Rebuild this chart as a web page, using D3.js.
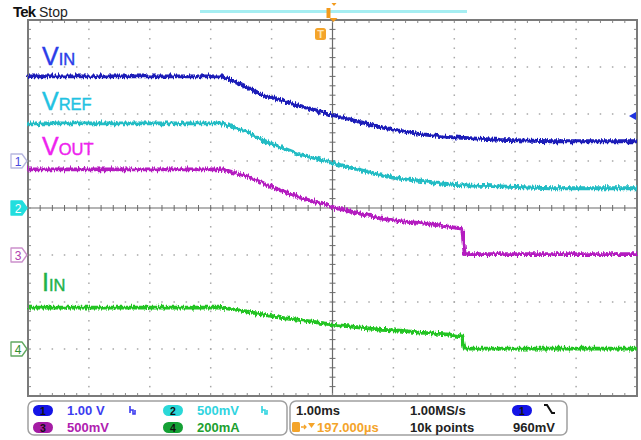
<!DOCTYPE html>
<html><head><meta charset="utf-8">
<script src="https://cdn.jsdelivr.net/npm/d3@7"></script>
<style>body{margin:0;background:#fff}svg{display:block}</style>
</head><body>
<svg id="scope" width="641" height="440"></svg>
<script>
// Acquisition samples: time in ms relative to screen centre (1.00 ms/div)
const timeMs = [-5, -1.81, -1.40, -1.14, -0.86, -0.58, 0, 0.78, 1.11, 1.44, 1.93, 2.13, 2.17, 2.75, 3.57, 5];
// Channel 1: input voltage (V)
const vinV  = [1.80, 1.80, 1.57, 1.40, 1.30, 1.19, 0.98, 0.72, 0.64, 0.57, 0.51, 0.49, 0.49, 0.45, 0.42, 0.42];
// Channel 2: reference voltage (V)
const vrefV = [0.90, 0.90, 0.81, 0.72, 0.65, 0.58, 0.48, 0.35, 0.31, 0.29, 0.25, 0.24, 0.24, 0.23, 0.21, 0.21];
// Channel 3: output voltage (V)
const voutV = [0.91, 0.91, 0.84, 0.76, 0.69, 0.62, 0.51, 0.39, 0.36, 0.34, 0.30, 0.28, 0.01, 0.01, 0.01, 0.01];
// Channel 4: input current (mA)
const iinMA = [176, 176, 159, 146, 133, 125, 104, 82, 78, 70, 61, 53, 2, 2, 2, 2];

const channelIds    = ["1", "2", "3", "4"];
const unitsPerDiv   = [1, 0.5, 0.5, 200];
const offsetDivs    = [1, 0, -1, -3];
const scaleLabels   = ["1.00 V", "500mV", "500mV", "200mA"];
const traceColors   = ["#1a1cb8", "#24bcc4", "#b41cc0", "#22c422"];
const labelColors   = ["#2b3de8", "#22c2e2", "#ee22ee", "#22b24a"];
const pillColors    = ["#1414e6", "#2ad8d8", "#a41ca4", "#14a034"];
const traceLabels   = [["V", "IN"], ["V", "REF"], ["V", "OUT"], ["I", "IN"]];
const horizLabels   = ["1.00ms", "197.000µs"];
const acqLabels     = ["1.00MS/s", "10k points"];
const triggerLevelV = 0.96;
const triggerLabel  = "960mV";
const triggerDelayMs = -0.197;

const series = [vinV, vrefV, voutV, iinMA];

const svg = d3.select("#scope");
const L = 28, R = 637, T = 20, B = 396;
const nx = 10, ny = 8;
const dx = (R - L) / nx, dy = (B - T) / ny;

const x = d3.scaleLinear().domain([-5, 5]).range([L, R]);
const yScales = unitsPerDiv.map((u, i) =>
  d3.scaleLinear().domain([(-4 - offsetDivs[i]) * u, (4 - offsetDivs[i]) * u]).range([B, T]));

// noise texture for the acquired traces
const defs = svg.append("defs");
const f = defs.append("filter").attr("id", "acq").attr("filterUnits", "userSpaceOnUse")
  .attr("x", 0).attr("y", 0).attr("width", 641).attr("height", 440);
f.append("feTurbulence").attr("type", "fractalNoise").attr("baseFrequency", "0.7 0.1")
  .attr("numOctaves", 2).attr("seed", 7).attr("result", "n");
f.append("feDisplacementMap").attr("in", "SourceGraphic").attr("in2", "n")
  .attr("scale", 6).attr("xChannelSelector", "G").attr("yChannelSelector", "R").attr("result", "d");
f.append("feGaussianBlur").attr("in", "d").attr("stdDeviation", 0.35);

// graticule dots
const grid = svg.append("g");
for (let k = 1; k < nx; k++) {
  if (k === 5) continue;
  for (let j = 1; j < ny * 5; j++) {
    grid.append("rect").attr("x", L + k * dx - 0.75).attr("y", T + j * dy / 5 - 0.75)
      .attr("width", 1.5).attr("height", 1.5).attr("fill", "#a8a8a8");
  }
}
for (let k = 1; k < ny; k++) {
  if (k === 4) continue;
  for (let j = 1; j < nx * 5; j++) {
    grid.append("rect").attr("x", L + j * dx / 5 - 0.75).attr("y", T + k * dy - 0.75)
      .attr("width", 1.5).attr("height", 1.5).attr("fill", "#a8a8a8");
  }
}
// centre cross with minor ticks
const cx = L + 5 * dx, cy = T + 4 * dy;
grid.append("line").attr("x1", L).attr("x2", R).attr("y1", cy).attr("y2", cy).attr("stroke", "#6a6a6a").attr("stroke-width", 1.2);
grid.append("line").attr("x1", cx).attr("x2", cx).attr("y1", T).attr("y2", B).attr("stroke", "#6a6a6a").attr("stroke-width", 1.2);
for (let j = 1; j < nx * 5; j++) {
  const px = L + j * dx / 5;
  grid.append("line").attr("x1", px).attr("x2", px).attr("y1", cy - 3).attr("y2", cy + 3).attr("stroke", "#6a6a6a");
  grid.append("line").attr("x1", px).attr("x2", px).attr("y1", T).attr("y2", T + 3).attr("stroke", "#8a8a8a");
  grid.append("line").attr("x1", px).attr("x2", px).attr("y1", B - 3).attr("y2", B).attr("stroke", "#8a8a8a");
}
for (let j = 1; j < ny * 5; j++) {
  const py = T + j * dy / 5;
  grid.append("line").attr("x1", cx - 3).attr("x2", cx + 3).attr("y1", py).attr("y2", py).attr("stroke", "#6a6a6a");
  grid.append("line").attr("x1", L).attr("x2", L + 3).attr("y1", py).attr("y2", py).attr("stroke", "#8a8a8a");
  grid.append("line").attr("x1", R - 3).attr("x2", R).attr("y1", py).attr("y2", py).attr("stroke", "#8a8a8a");
}
grid.append("rect").attr("x", L).attr("y", T).attr("width", R - L).attr("height", B - T)
  .attr("fill", "none").attr("stroke", "#7a7a7a").attr("stroke-width", 2);

// traces
const traces = svg.append("g").attr("filter", "url(#acq)");
series.forEach((vals, i) => {
  const line = d3.line().x((d, k) => x(timeMs[k])).y(d => yScales[i](d));
  traces.append("path").datum(vals).attr("d", line).attr("fill", "none")
    .attr("stroke", traceColors[i]).attr("stroke-width", 3.8).attr("stroke-linejoin", "round");
});

// trace names
const nameY = [65, 110, 155, 291];
traceLabels.forEach((lab, i) => {
  const t = svg.append("text").attr("x", 42).attr("y", nameY[i])
    .attr("font-family", "Liberation Sans, Arial, sans-serif").attr("fill", labelColors[i])
    .attr("stroke", labelColors[i]).attr("stroke-width", 0.4);
  t.append("tspan").attr("font-size", 25).text(lab[0]);
  t.append("tspan").attr("font-size", 16.5).text(lab[1]);
});

// channel ground markers
const markerStyles = [
  {fill: "#fff", stroke: "#b8b8e0", text: "#4848e0"},
  {fill: "#22dede", stroke: "#22dede", text: "#fff"},
  {fill: "#fff", stroke: "#cc90cc", text: "#b040b0"},
  {fill: "#fff", stroke: "#60a860", text: "#309030"}
];
channelIds.forEach((id, i) => {
  const gy = yScales[i](0);
  const s = markerStyles[i];
  svg.append("path").attr("d", `M11,${gy - 7} h11 l5,7 l-5,7 h-11 z`)
    .attr("fill", s.fill).attr("stroke", s.stroke).attr("stroke-width", 1.3).attr("stroke-linejoin", "round");
  svg.append("text").attr("x", 18).attr("y", gy + 4.5).attr("text-anchor", "middle")
    .attr("font-family", "Liberation Sans, Arial, sans-serif").attr("font-size", 12)
    .attr("fill", s.text).text(id);
});

// trigger level arrow (channel 1)
const ty = yScales[0](triggerLevelV);
svg.append("path").attr("d", `M629,${ty} l7,-4 v8 z`).attr("fill", "#2034e0");

// header
svg.append("text").attr("x", 13).attr("y", 17).attr("font-family", "Liberation Sans, Arial, sans-serif")
  .attr("font-size", 15).attr("font-weight", "bold").attr("letter-spacing", -0.8).attr("fill", "#111").text("Tek");
svg.append("text").attr("x", 39).attr("y", 17).attr("font-family", "Liberation Sans, Arial, sans-serif")
  .attr("font-size", 14).attr("fill", "#222").text("Stop");
svg.append("rect").attr("x", 200).attr("y", 10).attr("width", 267).attr("height", 3).attr("fill", "#a6eef2");

// trigger position markers
const trigX = x(triggerDelayMs);
svg.append("path").attr("d", `M${cx - 6},8 h4 v10 h-4 z`).attr("fill", "#f29a1c");
svg.append("path").attr("d", `M${cx - 1},3 h5 l-2.5,3 z`).attr("fill", "#f29a1c");
svg.append("path").attr("d", `M${cx - 3},18 h8 l-4,4 z`).attr("fill", "#f29a1c");
svg.append("rect").attr("x", trigX - 5.5).attr("y", 28).attr("width", 11).attr("height", 12).attr("rx", 2.5).attr("fill", "#f4a42a");
svg.append("text").attr("x", trigX).attr("y", 38).attr("text-anchor", "middle").attr("font-size", 11)
  .attr("font-weight", "bold").attr("font-family", "Liberation Sans, Arial, sans-serif").attr("fill", "#ffe3b0").text("T");

// status panel
const font = "Liberation Sans, Arial, sans-serif";
const panel = svg.append("g");
panel.append("rect").attr("x", 28).attr("y", 401).attr("width", 259).attr("height", 34).attr("rx", 6)
  .attr("fill", "#fff").attr("stroke", "#a0a0a0").attr("stroke-width", 1.5);
panel.append("rect").attr("x", 290).attr("y", 401).attr("width", 277).attr("height", 34).attr("rx", 6)
  .attr("fill", "#fff").attr("stroke", "#a0a0a0").attr("stroke-width", 1.5);

const pillPos = [[33, 405], [163, 405], [33, 422], [163, 422]];
const textColors = ["#3c3cf0", "#30d4e0", "#b020b0", "#20a030"];
function pill(px, py, color, id) {
  panel.append("rect").attr("x", px).attr("y", py).attr("width", 20).attr("height", 11).attr("rx", 5.5).attr("fill", color);
  panel.append("text").attr("x", px + 10).attr("y", py + 9.5).attr("text-anchor", "middle")
    .attr("font-family", font).attr("font-size", 10.5).attr("font-weight", "bold").attr("fill", "#111").text(id);
}
channelIds.forEach((id, i) => {
  const [px, py] = pillPos[i];
  pill(px, py, pillColors[i], id);
  panel.append("text").attr("x", px + 34).attr("y", py + 10).attr("font-family", font)
    .attr("font-size", 13).attr("font-weight", "bold").attr("fill", textColors[i]).text(scaleLabels[i]);
});
// bandwidth-limit glyphs for channels 1 and 2
[[130, textColors[0]], [262, textColors[1]]].forEach(([gx, c]) => {
  panel.append("path").attr("d", `M${gx},406 v7 M${gx},410 h3 v4 h2 v-4`).attr("fill", "none")
    .attr("stroke", c).attr("stroke-width", 1.6);
});

panel.append("text").attr("x", 296).attr("y", 415).attr("font-family", font).attr("font-size", 13)
  .attr("font-weight", "bold").attr("fill", "#222").text(horizLabels[0]);
panel.append("text").attr("x", 410).attr("y", 415).attr("font-family", font).attr("font-size", 13)
  .attr("font-weight", "bold").attr("fill", "#222").text(acqLabels[0]);
panel.append("text").attr("x", 410).attr("y", 432).attr("font-family", font).attr("font-size", 13)
  .attr("font-weight", "bold").attr("fill", "#222").text(acqLabels[1]);
pill(512, 405, pillColors[0], channelIds[0]);
panel.append("path").attr("d", "M544,405 h3 l5,8 h3").attr("fill", "none").attr("stroke", "#111").attr("stroke-width", 2);
panel.append("text").attr("x", 513).attr("y", 432).attr("font-family", font).attr("font-size", 13)
  .attr("font-weight", "bold").attr("fill", "#222").text(triggerLabel);
// trigger delay readout
panel.append("rect").attr("x", 292).attr("y", 422).attr("width", 8).attr("height", 10).attr("rx", 1.5).attr("fill", "#f4a42a");
panel.append("path").attr("d", "M301,427 h5 M304,425 l2,2 l-2,2").attr("fill", "none").attr("stroke", "#f4a42a").attr("stroke-width", 1.3);
panel.append("path").attr("d", "M308,423 h7 l-3.5,5 z").attr("fill", "#f4a42a");
panel.append("text").attr("x", 317).attr("y", 432).attr("font-family", font).attr("font-size", 13)
  .attr("font-weight", "bold").attr("fill", "#f4a42a").text(horizLabels[1]);
</script>
</body></html>
